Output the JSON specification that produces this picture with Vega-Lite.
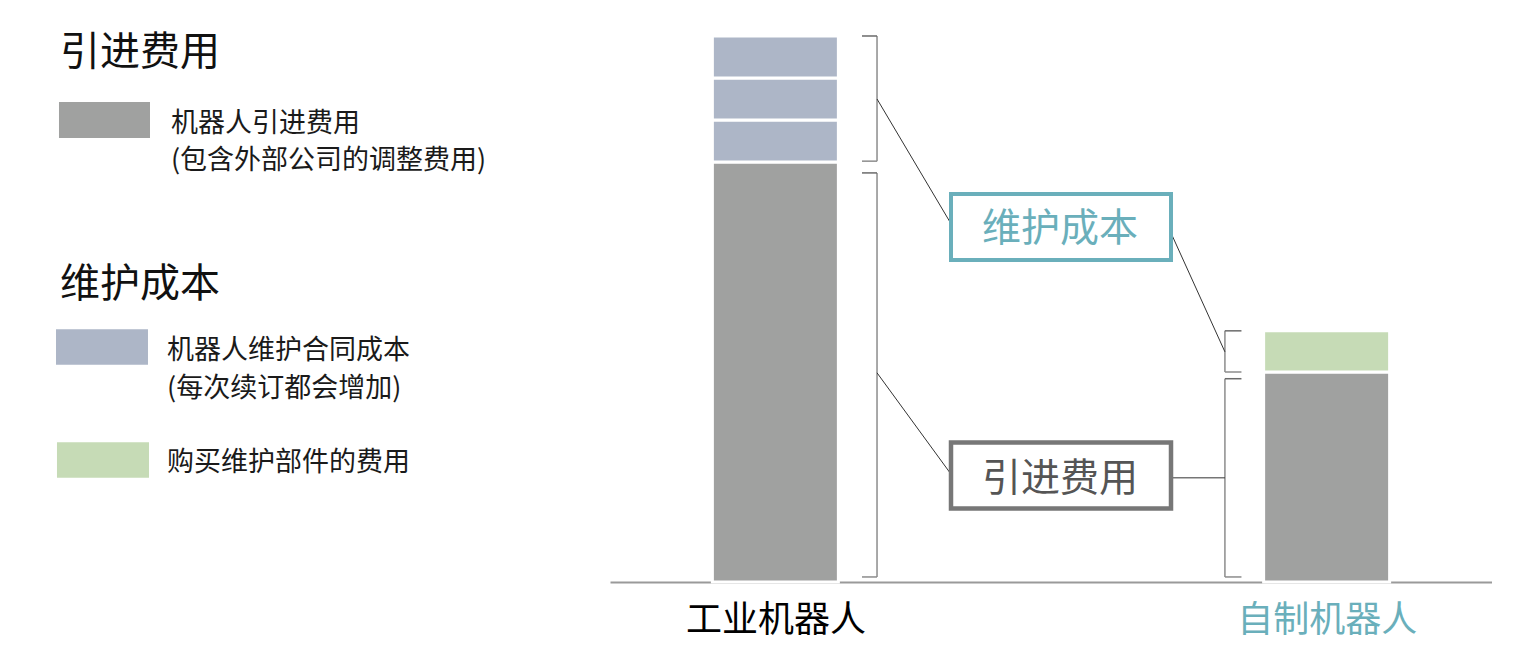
{
  "$schema": "https://vega.github.io/schema/vega-lite/v6.json",
  "padding": {"left": 0, "top": 0, "right": 0, "bottom": 24},
  "spacing": 0,
  "background": "white",
  "config": {
    "view": {"stroke": null},
    "font": "Noto Sans CJK SC"
  },
  "resolve": {"scale": {"color": "shared"}},
  "hconcat": [
    {
      "width": 610,
      "height": 582,
      "layer": [
        {
          "data": {"values": [
            {"seg": "机器人引进费用", "x1": 9.67, "x2": 24.59, "y1": 11.43, "y2": 10.57},
            {"seg": "机器人维护合同成本", "x1": 9.18, "x2": 24.26, "y1": 6.02, "y2": 5.17},
            {"seg": "购买维护部件的费用", "x1": 9.34, "x2": 24.43, "y1": 3.33, "y2": 2.48}
          ]},
          "mark": {"type": "rect"},
          "encoding": {
            "x": {"field": "x1", "type": "quantitative", "scale": {"domain": [0, 100], "nice": false, "padding": 0}, "axis": null},
            "x2": {"field": "x2"},
            "y": {"field": "y1", "type": "quantitative", "scale": {"domain": [0, 13.857], "nice": false, "padding": 0}, "axis": null},
            "y2": {"field": "y2"},
            "color": {"field": "seg", "type": "nominal", "legend": null}
          }
        },
        {
          "data": {"values": [
            {"t": "引进费用", "lx": 9.84, "ly": 12.67},
            {"t": "维护成本", "lx": 9.84, "ly": 7.14}
          ]},
          "mark": {"type": "text", "align": "left", "baseline": "middle", "fontSize": 40, "dy": 3, "color": "#111"},
          "encoding": {
            "x": {"field": "lx", "type": "quantitative"},
            "y": {"field": "ly", "type": "quantitative"},
            "text": {"field": "t"}
          }
        },
        {
          "data": {"values": [
            {"t": "机器人引进费用", "lx": 28.03, "ly": 10.95},
            {"t": "(包含外部公司的调整费用)", "lx": 28.03, "ly": 10.07},
            {"t": "机器人维护合同成本", "lx": 27.38, "ly": 5.55},
            {"t": "(每次续订都会增加)", "lx": 27.38, "ly": 4.64},
            {"t": "购买维护部件的费用", "lx": 27.38, "ly": 2.88}
          ]},
          "mark": {"type": "text", "align": "left", "baseline": "middle", "fontSize": 27, "dy": 2, "color": "#1a1a1a"},
          "encoding": {
            "x": {"field": "lx", "type": "quantitative"},
            "y": {"field": "ly", "type": "quantitative"},
            "text": {"field": "t"}
          }
        }
      ]
    },
    {
      "width": 882,
      "height": 582,
      "layer": [
        {
          "data": {"values": [
            {"robot": 1, "seg": "机器人引进费用", "amount": 10, "order": 1},
            {"robot": 1, "seg": "机器人维护合同成本", "amount": 1, "order": 2},
            {"robot": 1, "seg": "机器人维护合同成本", "amount": 1, "order": 3},
            {"robot": 1, "seg": "机器人维护合同成本", "amount": 1, "order": 4},
            {"robot": 2, "seg": "机器人引进费用", "amount": 5, "order": 1},
            {"robot": 2, "seg": "购买维护部件的费用", "amount": 0.98, "order": 2}
          ]},
          "mark": {"type": "bar", "width": 126, "stroke": "white", "strokeWidth": 3},
          "encoding": {
            "x": {
              "field": "robot",
              "type": "quantitative",
              "scale": {"domain": [0.7, 2.3], "nice": false, "zero": false, "padding": 0},
              "axis": {
                "title": null,
                "values": [1, 2],
                "grid": false,
                "ticks": false,
                "tickSize": 0,
                "domainColor": "#9a9a9a",
                "domainWidth": 2,
                "labelExpr": "datum.value == 1 ? '工业机器人' : '自制机器人'",
                "labelFontSize": 36,
                "labelPadding": 21,
                "labelLimit": 0,
                "labelFlush": false,
                "labelOverlap": false,
                "labelColor": {"condition": {"test": "datum.value == 2", "value": "#6aafbb"}, "value": "#000000"}
              }
            },
            "y": {
              "field": "amount",
              "type": "quantitative",
              "stack": "zero",
              "scale": {"domain": [0, 13.857], "nice": false, "padding": 0},
              "axis": null
            },
            "order": {"field": "order", "type": "quantitative"},
            "color": {
              "field": "seg",
              "type": "nominal",
              "scale": {
                "domain": ["机器人引进费用", "机器人维护合同成本", "购买维护部件的费用"],
                "range": ["#a0a1a0", "#adb6c7", "#c6dbb6"]
              },
              "legend": null
            }
          }
        },
        {
          "data": {"name": "brackets", "values": [
            {"bx": 1.1844, "tx": 1.1571, "lo": 10.02, "hi": 13.0},
            {"bx": 1.1844, "tx": 1.1571, "lo": 0.12, "hi": 9.74},
            {"bx": 1.8155, "tx": 1.8455, "lo": 5.0, "hi": 5.98},
            {"bx": 1.8155, "tx": 1.8455, "lo": 0.12, "hi": 4.84}
          ]},
          "layer": [
            {
              "mark": {"type": "rule", "color": "#8c8c8c", "strokeWidth": 1.5},
              "encoding": {
                "x": {"field": "bx", "type": "quantitative"},
                "y": {"field": "lo", "type": "quantitative"},
                "y2": {"field": "hi"}
              }
            },
            {
              "mark": {"type": "rule", "color": "#8c8c8c", "strokeWidth": 1.5},
              "encoding": {
                "x": {"field": "tx", "type": "quantitative"},
                "x2": {"field": "bx"},
                "y": {"field": "lo", "type": "quantitative"}
              }
            },
            {
              "mark": {"type": "rule", "color": "#6a6a6a", "strokeWidth": 1.5},
              "encoding": {
                "x": {"field": "tx", "type": "quantitative"},
                "x2": {"field": "bx"},
                "y": {"field": "hi", "type": "quantitative"}
              }
            }
          ]
        },
        {
          "data": {"values": [
            {"x1": 1.1844, "y1": 11.5, "x2": 1.3168, "y2": 8.57},
            {"x1": 1.1844, "y1": 4.98, "x2": 1.3168, "y2": 2.6},
            {"x1": 1.7177, "y1": 8.31, "x2": 1.8155, "y2": 5.48},
            {"x1": 1.7177, "y1": 2.48, "x2": 1.8155, "y2": 2.48}
          ]},
          "mark": {"type": "rule", "color": "#333333", "strokeWidth": 1},
          "encoding": {
            "x": {"field": "x1", "type": "quantitative"},
            "y": {"field": "y1", "type": "quantitative"},
            "x2": {"field": "x2"},
            "y2": {"field": "y2"}
          }
        },
        {
          "data": {"values": [
            {"t": "维护成本", "x1": 1.3186, "x2": 1.7177, "y1": 9.238, "y2": 7.667, "cx": 1.5163, "cy": 8.476}
          ]},
          "layer": [
            {
              "mark": {"type": "rect", "fill": "white", "stroke": "#6aafbb", "strokeWidth": 4},
              "encoding": {
                "x": {"field": "x1", "type": "quantitative"},
                "x2": {"field": "x2"},
                "y": {"field": "y1", "type": "quantitative"},
                "y2": {"field": "y2"}
              }
            },
            {
              "mark": {"type": "text", "align": "center", "baseline": "middle", "fontSize": 39, "dy": 3, "color": "#6aafbb"},
              "encoding": {
                "x": {"field": "cx", "type": "quantitative"},
                "y": {"field": "cy", "type": "quantitative"},
                "text": {"field": "t"}
              }
            }
          ]
        },
        {
          "data": {"values": [
            {"t": "引进费用", "x1": 1.3186, "x2": 1.7177, "y1": 3.32, "y2": 1.75, "cx": 1.5163, "cy": 2.524}
          ]},
          "layer": [
            {
              "mark": {"type": "rect", "fill": "white", "stroke": "#777777", "strokeWidth": 4.5},
              "encoding": {
                "x": {"field": "x1", "type": "quantitative"},
                "x2": {"field": "x2"},
                "y": {"field": "y1", "type": "quantitative"},
                "y2": {"field": "y2"}
              }
            },
            {
              "mark": {"type": "text", "align": "center", "baseline": "middle", "fontSize": 39, "dy": 3, "color": "#555555"},
              "encoding": {
                "x": {"field": "cx", "type": "quantitative"},
                "y": {"field": "cy", "type": "quantitative"},
                "text": {"field": "t"}
              }
            }
          ]
        }
      ]
    }
  ]
}
